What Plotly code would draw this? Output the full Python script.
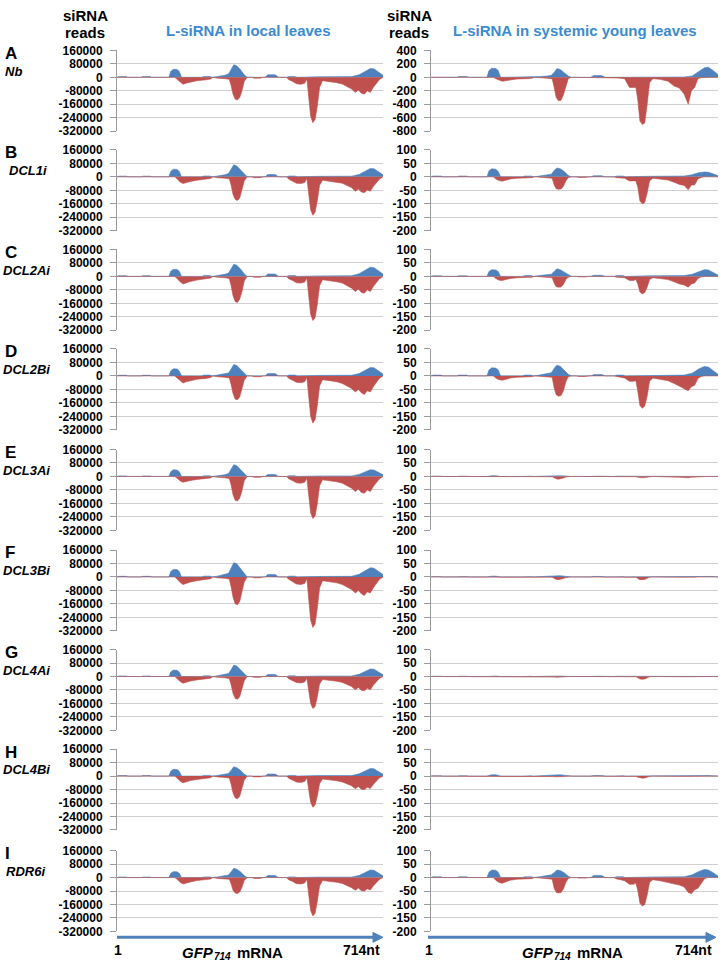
import plotly.graph_objects as go

# ---------------- data ----------------
# nucleotide positions (shared grids) for sense (blue) and antisense (red) profiles
SENSE_POS = [1, 6, 26, 30, 66, 70, 90, 94, 140, 145, 152, 162, 168, 174, 228, 234, 250, 256,
             270, 290, 300, 308, 314, 322, 332, 342, 350, 398, 405, 425, 434, 456, 462, 478,
             484, 540, 600, 630, 650, 665, 680, 690, 700, 714]
ANTI_POS = [1, 156, 162, 170, 178, 186, 198, 215, 240, 252, 258, 270, 290, 302, 307, 312, 318,
            324, 330, 336, 342, 350, 362, 368, 385, 392, 455, 462, 472, 482, 494, 504, 510, 515,
            520, 526, 532, 538, 544, 552, 570, 590, 605, 618, 630, 640, 648, 656, 664, 672, 680,
            688, 696, 704, 714]

ROW_LETTERS = ["A", "B", "C", "D", "E", "F", "G", "H", "I"]
ROW_GENES = ["Nb", "DCL1i", "DCL2Ai", "DCL2Bi", "DCL3Ai", "DCL3Bi", "DCL4Ai", "DCL4Bi", "RDR6i"]

# local leaves, reads in thousands
LOCAL_A_SENSE_K = [0,4,4,0,0,4,4,0,0,35,48,46,35,0,0,5,5,0,5,12,20,50,75,68,45,15,0,0,15,15,0,0,5,5,0,3,5,4,15,35,52,50,35,12]
LOCAL_B_SENSE_K = [0,4,4,0,0,4,4,0,0,32,45,44,32,0,0,5,5,0,5,12,20,48,72,65,42,14,0,0,14,14,0,0,5,5,0,3,5,4,14,32,50,48,34,12]
LOCAL_C_SENSE_K = [0,4,4,0,0,4,4,0,0,30,42,41,30,0,0,5,5,0,5,12,20,48,72,66,44,15,0,0,14,14,0,0,5,5,0,3,5,4,16,38,55,52,38,14]
LOCAL_D_SENSE_K = [0,4,4,0,0,4,4,0,0,30,42,41,30,0,0,5,5,0,5,11,18,45,68,62,40,14,0,0,14,14,0,0,5,5,0,3,5,4,14,34,50,48,34,12]
LOCAL_E_SENSE_K = [0,3,3,0,0,3,3,0,0,28,40,38,28,0,0,4,4,0,4,10,18,46,70,64,42,14,0,0,12,12,0,0,4,4,0,3,4,3,12,28,40,38,28,10]
LOCAL_F_SENSE_K = [0,4,4,0,0,4,4,0,0,32,45,44,32,0,0,5,5,0,5,14,22,58,85,78,50,16,0,0,15,15,0,0,5,5,0,3,5,4,16,38,55,52,38,14]
LOCAL_G_SENSE_K = [0,3,3,0,0,3,3,0,0,27,38,37,27,0,0,4,4,0,4,11,18,45,68,62,40,13,0,0,12,12,0,0,4,4,0,3,4,3,13,30,45,43,30,10]
LOCAL_H_SENSE_K = [0,3,3,0,0,3,3,0,0,28,40,39,28,0,0,4,4,0,4,10,15,38,55,50,34,12,0,0,12,12,0,0,4,4,0,3,4,3,13,30,45,43,30,10]
LOCAL_I_SENSE_K = [0,3,3,0,0,3,3,0,0,25,35,34,25,0,0,4,4,0,4,10,15,38,55,50,34,12,0,0,12,12,0,0,4,4,0,3,4,3,13,30,45,43,30,10]

LOCAL_A_ANTI_K = [0,0,-12,-30,-42,-35,-28,-20,-15,-10,0,-5,-8,-12,-50,-100,-130,-135,-120,-80,-25,0,0,-5,-5,0,0,-15,-25,-38,-42,-35,-10,-120,-230,-270,-250,-170,-60,-20,-25,-32,-40,-55,-70,-90,-75,-95,-100,-80,-90,-60,-35,-15,0]
LOCAL_B_ANTI_K = [0,0,-12,-30,-40,-34,-27,-20,-15,-10,0,-5,-8,-12,-50,-105,-135,-140,-125,-80,-25,0,0,-5,-5,0,0,-15,-25,-38,-40,-34,-10,-100,-195,-228,-210,-140,-50,-20,-25,-30,-38,-52,-65,-85,-72,-90,-95,-78,-85,-58,-35,-15,0]
LOCAL_C_ANTI_K = [0,0,-12,-32,-45,-38,-30,-22,-16,-10,0,-5,-8,-12,-55,-115,-150,-155,-135,-90,-28,0,0,-5,-5,0,0,-15,-25,-38,-40,-34,-10,-115,-225,-262,-245,-165,-55,-20,-25,-32,-40,-55,-70,-90,-75,-95,-100,-80,-90,-60,-35,-15,0]
LOCAL_D_ANTI_K = [0,0,-12,-30,-42,-35,-28,-20,-15,-10,0,-5,-8,-12,-52,-105,-138,-142,-125,-82,-25,0,0,-5,-5,0,0,-15,-25,-38,-40,-34,-10,-125,-240,-280,-260,-175,-60,-22,-28,-35,-45,-60,-75,-95,-80,-100,-110,-88,-95,-65,-38,-15,0]
LOCAL_E_ANTI_K = [0,0,-10,-26,-35,-30,-24,-18,-14,-9,0,-5,-8,-12,-52,-108,-142,-146,-128,-85,-25,0,0,-5,-5,0,0,-15,-25,-38,-40,-34,-10,-110,-215,-250,-235,-160,-55,-20,-25,-32,-40,-55,-70,-90,-75,-95,-100,-80,-90,-60,-35,-15,0]
LOCAL_F_ANTI_K = [0,0,-12,-32,-45,-38,-30,-22,-16,-10,0,-5,-8,-12,-60,-120,-160,-165,-145,-95,-30,0,0,-5,-5,0,0,-15,-28,-42,-45,-38,-10,-130,-255,-300,-280,-185,-65,-22,-28,-35,-45,-60,-75,-95,-80,-100,-110,-88,-95,-65,-38,-15,0]
LOCAL_G_ANTI_K = [0,0,-12,-30,-40,-34,-27,-20,-15,-10,0,-5,-8,-12,-50,-100,-130,-135,-120,-78,-25,0,0,-5,-5,0,0,-14,-24,-36,-38,-32,-10,-85,-160,-190,-178,-120,-45,-18,-22,-28,-35,-48,-60,-78,-65,-82,-85,-70,-78,-52,-30,-12,0]
LOCAL_H_ANTI_K = [0,0,-12,-30,-40,-34,-27,-20,-15,-10,0,-5,-8,-12,-50,-100,-130,-135,-120,-78,-25,0,0,-5,-5,0,0,-14,-24,-36,-38,-32,-10,-82,-155,-185,-172,-118,-45,-18,-22,-28,-35,-45,-58,-75,-62,-78,-80,-66,-74,-50,-28,-12,0]
LOCAL_I_ANTI_K = [0,0,-10,-28,-38,-32,-26,-18,-14,-9,0,-5,-8,-10,-38,-75,-92,-95,-85,-58,-18,0,0,-5,-5,0,0,-14,-24,-36,-38,-32,-10,-100,-195,-228,-212,-140,-50,-18,-22,-28,-35,-48,-60,-75,-62,-78,-80,-66,-74,-50,-28,-12,0]

# systemic young leaves, reads
SYS_A_SENSE = [0,0,0,0,0,12,12,0,0,100,135,130,100,0,0,10,10,0,10,20,30,80,130,115,70,20,0,0,25,25,0,0,5,5,0,5,5,5,20,80,140,150,110,40]
SYS_B_SENSE = [0,3,3,0,0,3,3,0,0,22,30,28,20,0,0,3,3,0,3,8,10,25,33,30,20,5,0,0,4,4,0,0,3,3,0,2,3,3,8,15,18,17,12,4]
SYS_C_SENSE = [0,2,2,0,0,2,2,0,0,18,25,24,18,0,0,3,3,0,3,6,8,20,28,25,16,4,0,0,4,4,0,0,3,3,0,2,3,3,8,18,25,24,16,5]
SYS_D_SENSE = [0,3,3,0,0,3,3,0,0,22,30,29,22,0,0,3,3,0,3,8,12,30,40,36,22,6,0,0,5,5,0,0,3,3,0,2,3,3,10,25,35,33,22,6]
SYS_E_SENSE = [0,1,1,0,0,1,1,0,0,2,3,3,2,0,0,1,1,0,1,1,2,2,3,3,2,1,0,0,1,1,0,0,1,1,0,1,1,1,1,1,2,2,1,0]
SYS_F_SENSE = [0,1,1,0,0,1,1,0,0,2,3,3,2,0,0,1,1,0,1,2,3,4,5,5,3,1,0,0,2,2,0,0,1,1,0,1,1,1,1,2,3,3,2,0]
SYS_G_SENSE = [0,1,1,0,0,1,1,0,0,1,2,2,1,0,0,1,1,0,1,1,1,2,2,2,1,0,0,0,1,1,0,0,1,1,0,1,1,1,1,1,1,1,1,0]
SYS_H_SENSE = [0,1,1,0,0,1,1,0,0,3,5,5,3,0,0,1,1,0,1,2,3,4,5,5,3,1,0,0,2,2,0,0,1,1,0,1,1,1,1,2,2,2,1,0]
SYS_I_SENSE = [0,3,3,0,0,3,3,0,0,20,28,27,20,0,0,3,3,0,3,6,10,20,28,26,18,5,0,0,8,8,0,0,3,3,0,2,3,3,10,22,30,28,20,6]

SYS_A_ANTI = [0,0,-20,-45,-60,-50,-35,-25,-20,-15,0,-5,-10,-20,-150,-300,-350,-340,-260,-120,-20,0,0,-5,-5,0,0,-10,-15,-20,-150,-155,-150,-350,-650,-700,-680,-400,-80,-20,-30,-60,-130,-160,-250,-400,-200,-150,-20,-5,0,0,0,0,0]
SYS_B_ANTI = [0,0,-8,-14,-16,-12,-8,-5,-4,-3,0,-2,-3,-5,-30,-44,-46,-45,-35,-15,-3,0,0,-2,-2,0,0,-3,-4,-5,-15,-15,-15,-40,-90,-100,-95,-60,-15,-5,-8,-12,-20,-28,-32,-48,-30,-30,-8,-2,0,0,0,0,0]
SYS_C_ANTI = [0,0,-8,-14,-15,-12,-8,-5,-4,-3,0,-2,-3,-5,-25,-38,-40,-39,-30,-12,-3,0,0,-2,-2,0,0,-3,-4,-5,-15,-15,-12,-30,-58,-65,-60,-40,-12,-5,-8,-12,-20,-28,-32,-40,-28,-25,-8,-2,0,0,0,0,0]
SYS_D_ANTI = [0,0,-8,-14,-16,-12,-8,-5,-4,-3,0,-2,-3,-5,-45,-70,-75,-73,-55,-22,-3,0,0,-2,-2,0,0,-3,-5,-8,-20,-20,-18,-60,-110,-120,-112,-75,-20,-8,-12,-18,-28,-38,-45,-55,-40,-35,-10,-2,0,0,0,0,0]
SYS_E_ANTI = [0,0,-1,-2,-2,-1,-1,-1,0,0,0,0,-1,-1,-5,-9,-10,-9,-6,-2,0,0,0,0,0,0,0,0,-1,-1,-2,-2,-1,-3,-5,-5,-4,-2,-1,0,-1,-1,-2,-3,-4,-5,-3,-2,-1,0,0,0,0,0,0]
SYS_F_ANTI = [0,0,-1,-1,-1,-1,-1,0,0,0,0,0,-1,-1,-5,-9,-10,-9,-6,-2,0,0,0,0,0,0,0,0,-1,-1,-1,-1,-1,-6,-10,-10,-9,-5,-1,0,-1,-1,-1,-1,-1,-2,-1,-1,0,0,0,0,0,0,0]
SYS_G_ANTI = [0,0,-1,-1,-1,-1,0,0,0,0,0,0,0,-1,-2,-3,-3,-3,-2,-1,0,0,0,0,0,0,0,0,-1,-1,-1,-1,-1,-5,-9,-10,-9,-5,-1,0,-1,-1,-1,-1,-1,-1,-1,-1,0,0,0,0,0,0,0]
SYS_H_ANTI = [0,0,-1,-2,-2,-1,-1,0,0,0,0,0,0,-1,-2,-3,-3,-3,-2,-1,0,0,0,0,0,0,0,0,-1,-1,-1,-1,-1,-4,-7,-8,-7,-4,-1,0,-1,-1,-1,-1,-1,-1,-1,-1,0,0,0,0,0,0,0]
SYS_I_ANTI = [0,0,-10,-18,-21,-16,-10,-6,-5,-4,0,-2,-4,-6,-40,-55,-57,-55,-42,-18,-3,0,0,-2,-2,0,0,-5,-8,-12,-25,-25,-20,-50,-95,-106,-100,-65,-18,-8,-12,-18,-25,-28,-35,-55,-60,-45,-40,-20,-5,0,0,0,0]

LOCAL_TICKS = [160000, 80000, 0, -80000, -160000, -240000, -320000]
SYS_TICKS_A = [400, 200, 0, -200, -400, -600, -800]
SYS_TICKS = [100, 50, 0, -50, -100, -150, -200]

LOCAL_SENSE = [LOCAL_A_SENSE_K, LOCAL_B_SENSE_K, LOCAL_C_SENSE_K, LOCAL_D_SENSE_K, LOCAL_E_SENSE_K,
               LOCAL_F_SENSE_K, LOCAL_G_SENSE_K, LOCAL_H_SENSE_K, LOCAL_I_SENSE_K]
LOCAL_ANTI = [LOCAL_A_ANTI_K, LOCAL_B_ANTI_K, LOCAL_C_ANTI_K, LOCAL_D_ANTI_K, LOCAL_E_ANTI_K,
              LOCAL_F_ANTI_K, LOCAL_G_ANTI_K, LOCAL_H_ANTI_K, LOCAL_I_ANTI_K]
SYS_SENSE = [SYS_A_SENSE, SYS_B_SENSE, SYS_C_SENSE, SYS_D_SENSE, SYS_E_SENSE, SYS_F_SENSE,
             SYS_G_SENSE, SYS_H_SENSE, SYS_I_SENSE]
SYS_ANTI = [SYS_A_ANTI, SYS_B_ANTI, SYS_C_ANTI, SYS_D_ANTI, SYS_E_ANTI, SYS_F_ANTI,
            SYS_G_ANTI, SYS_H_ANTI, SYS_I_ANTI]

# ---------------- layout ----------------
W, H = 722, 969
FONT = "Liberation Sans, Arial, sans-serif"
BLUE = "#4f81bd"
RED = "#c0504d"
TITLE_BLUE = "#3b8bd0"
GRID = "#cfcfcf"
AXIS = "#9a9a9a"

TOPS = [44, 145, 246, 347, 449, 551, 652, 753, 856]
PH = 82
COLS = [(117, 383), (431, 718)]


def px(x):
    return x / W


def py(y):
    return 1 - y / H


fig = go.Figure()
layout = {}
for r in range(9):
    ydom = [py(TOPS[r] + PH), py(TOPS[r])]
    for c in range(2):
        i = r * 2 + c + 1
        xs = "" if i == 1 else str(i)
        xdom = [px(COLS[c][0]), px(COLS[c][1])]
        if c == 0:
            ticks = LOCAL_TICKS
            sense = [v * 1000 for v in LOCAL_SENSE[r]]
            anti = [v * 1000 for v in LOCAL_ANTI[r]]
        else:
            ticks = SYS_TICKS_A if r == 0 else SYS_TICKS
            sense = SYS_SENSE[r]
            anti = SYS_ANTI[r]
        layout["xaxis" + xs] = dict(domain=xdom, range=[1, 714], showgrid=False, zeroline=False,
                                    showline=False, showticklabels=False, ticks="",
                                    anchor="y" + xs, fixedrange=True)
        layout["yaxis" + xs] = dict(domain=ydom, range=[ticks[-1], ticks[0]], tickvals=ticks,
                                    ticktext=["<b>%d</b>" % t for t in ticks],
                                    tickfont=dict(family=FONT, size=12, color="#000"),
                                    showgrid=True, gridcolor=GRID, gridwidth=1,
                                    zeroline=False, showline=True, linecolor=AXIS, linewidth=1,
                                    ticks="outside", ticklen=6, tickcolor=AXIS,
                                    ticklabelstandoff=5,
                                    anchor="x" + xs, fixedrange=True)
        fig.add_trace(go.Scatter(x=SENSE_POS, y=sense, mode="lines", fill="tozeroy",
                                 fillcolor=BLUE, line=dict(color=BLUE, width=0.6),
                                 xaxis="x" + xs, yaxis="y" + xs, showlegend=False,
                                 hoverinfo="skip"))
        fig.add_trace(go.Scatter(x=ANTI_POS, y=anti, mode="lines", fill="tozeroy",
                                 fillcolor=RED, line=dict(color=RED, width=0.6),
                                 xaxis="x" + xs, yaxis="y" + xs, showlegend=False,
                                 hoverinfo="skip"))

ann = []


def txt(x, y, s, size, color="#000", xanchor="center"):
    ann.append(dict(x=px(x), y=py(y), xref="paper", yref="paper", text=s, showarrow=False,
                    xanchor=xanchor, yanchor="middle",
                    font=dict(family=FONT, size=size, color=color)))


# headers
txt(85, 9, "<b>siRNA</b>", 15)
txt(85, 26, "<b>reads</b>", 15)
txt(409, 9, "<b>siRNA</b>", 15)
txt(409, 26, "<b>reads</b>", 15)
txt(248, 24, "<b>L-siRNA in local leaves</b>", 15, TITLE_BLUE)
txt(575, 24, "<b>L-siRNA in systemic young leaves</b>", 15, TITLE_BLUE)

# row labels
GENE_X = [13, 28, 26, 26, 26, 26, 26, 26, 25]
for r in range(9):
    txt(3, TOPS[r] + 3, "<b>%s</b>" % ROW_LETTERS[r], 17, xanchor="left")
    txt(GENE_X[r], TOPS[r] + 21, "<b><i>%s</i></b>" % ROW_GENES[r], 13)

# bottom arrows (shapes) and labels
shapes = []
for (x0, x1) in [(117, 383), (428, 716)]:
    shapes.append(dict(type="line", xref="paper", yref="paper", x0=px(x0), x1=px(x1 - 8),
                       y0=py(944), y1=py(944), line=dict(color=BLUE, width=3)))
    shapes.append(dict(type="path", xref="paper", yref="paper",
                       path="M %f %f L %f %f L %f %f Z" % (px(x1 - 10), py(939), px(x1), py(944),
                                                        px(x1 - 10), py(949)),
                       fillcolor=BLUE, line=dict(color=BLUE, width=1)))
for (x0, xs0, x1) in [(118, 180, 382), (429, 520, 714)]:
    txt(x0, 957, "<b>1</b>", 14)
    # GFP + subscript 714 + mRNA, built from separate pieces
    txt(xs0, 959, "<b><i>GFP</i></b>", 15, xanchor="left")
    txt(xs0 + 32, 963, "<b><i>714</i></b>", 10, xanchor="left")
    txt(xs0 + 55, 959, "<b>mRNA</b>", 15, xanchor="left")
    txt(x1, 957, "<b>714nt</b>", 14, xanchor="right")

layout.update(dict(width=W, height=H, margin=dict(l=0, r=0, t=0, b=0),
                   paper_bgcolor="white", plot_bgcolor="white", annotations=ann,
                   shapes=shapes, showlegend=False, font=dict(family=FONT)))
fig.update_layout(**layout)

PIN = ("document.documentElement.style.margin='0';document.body.style.margin='0';"
       "document.body.style.overflow='hidden';"
       "var d=document.getElementById('{plot_id}');"
       "d.style.position='fixed';d.style.left='0px';d.style.top='0px';")
fig.write_html("out.html", post_script=PIN, config={"displayModeBar": False})
